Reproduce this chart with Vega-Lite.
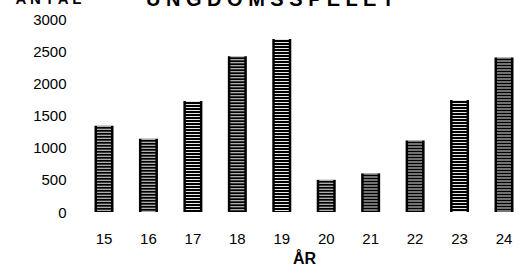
{
  "$schema": "https://vega.github.io/schema/vega-lite/v6.json",
  "width": 444,
  "height": 193,
  "autosize": "none",
  "padding": {"left": 82, "top": 19, "right": 0, "bottom": 61},
  "background": "white",
  "title": {
    "text": "U N G D O M S S P E L E T",
    "anchor": "middle",
    "dx": -34,
    "offset": -35,
    "baseline": "alphabetic",
    "font": "Liberation Sans",
    "fontSize": 20,
    "fontWeight": "bold",
    "color": "black"
  },
  "config": {"view": {"stroke": null}},
  "data": {
    "values": [
      {"ar": "15", "antal": 1340},
      {"ar": "16", "antal": 1140},
      {"ar": "17", "antal": 1725},
      {"ar": "18", "antal": 2420},
      {"ar": "19", "antal": 2690},
      {"ar": "20", "antal": 500},
      {"ar": "21", "antal": 600},
      {"ar": "22", "antal": 1110},
      {"ar": "23", "antal": 1740},
      {"ar": "24", "antal": 2400}
    ]
  },
  "encoding": {
    "x": {
      "field": "ar",
      "type": "ordinal",
      "sort": null,
      "scale": {"paddingInner": 0.57, "paddingOuter": 0.28},
      "axis": {
        "title": "ÅR",
        "titleFont": "Liberation Sans",
        "titleFontSize": 16,
        "titleFontWeight": "bold",
        "titleColor": "black",
        "titlePadding": 4,
        "labelAngle": 0,
        "labelFont": "Liberation Sans",
        "labelFontSize": 15,
        "labelColor": "black",
        "labelPadding": 19,
        "domain": false,
        "ticks": false,
        "grid": false
      }
    },
    "y": {
      "field": "antal",
      "type": "quantitative",
      "scale": {"domain": [0, 3000], "nice": false},
      "axis": {
        "values": [0, 500, 1000, 1500, 2000, 2500, 3000],
        "format": "d",
        "title": "A N T A L",
        "titleAngle": 0,
        "titleAlign": "left",
        "titleBaseline": "alphabetic",
        "titleX": -67,
        "titleY": -16,
        "titleFont": "Liberation Sans",
        "titleFontSize": 15,
        "titleFontWeight": "bold",
        "titleColor": "black",
        "labelFont": "Liberation Sans",
        "labelFontSize": 15,
        "labelColor": "black",
        "labelPadding": 16,
        "domain": false,
        "ticks": false,
        "grid": false
      }
    }
  },
  "layer": [
    {"mark": {"type": "bar", "color": "black", "size": 19}},
    {
      "mark": {"type": "rule", "color": "white", "strokeWidth": 14, "strokeDash": [1, 2], "strokeCap": "butt", "opacity": 0.9},
      "encoding": {"y2": {"datum": 0}}
    }
  ]
}
